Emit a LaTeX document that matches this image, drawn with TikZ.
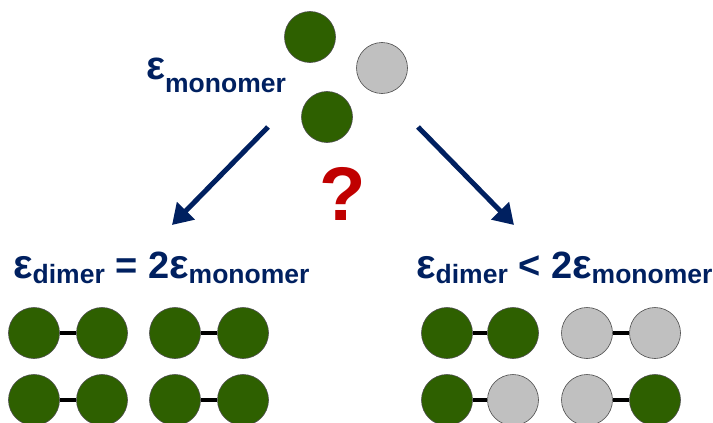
\documentclass[tikz,border=0pt]{standalone}
\usepackage{fontspec}
\setmainfont{Liberation Sans}
\usetikzlibrary{arrows.meta}
\definecolor{navy}{HTML}{002060}
\definecolor{leaf}{HTML}{2E6000}
\definecolor{ash}{HTML}{C0C0C0}
\definecolor{alert}{HTML}{C00000}
\newcommand{\bigeps}[1]{{\fontsize{#1}{#1}\selectfont ε}}
\newcommand{\lowsub}[2]{\raisebox{-#1}{\fontsize{26.5}{28}\selectfont #2}}
\begin{document}
\begin{tikzpicture}[x=1pt, y=-1pt,
    atom/.style={circle, draw=black!70, line width=0.6pt, minimum size=51pt, inner sep=0pt},
    green/.style={atom, fill=leaf},
    grey/.style={atom, fill=ash},
    bond/.style={line width=3.5pt, black},
    label/.style={inner sep=0pt, anchor=base west, text=navy, font=\bfseries},
    pointer/.style={navy, line width=5pt, -{Triangle[length=20pt, width=24pt]}}]
        \clip (0,0) rectangle (713,423);
        % monomers
        \node[green] (m1) at (310,37) {};
        \node[grey]  (m2) at (382,68) {};
        \node[green] (m3) at (327,117) {};
        \node[label] (emono) at (146,79) {\bigeps{40}\lowsub{13pt}{monomer}};
        \node[text=alert, font=\bfseries\fontsize{76}{80}\selectfont] (ask) at (343,194) {?};
        % arrows
        \coordinate (la) at (268,127);
        \coordinate (lb) at (172,225);
        \coordinate (ra) at (418,127);
        \coordinate (rb) at (514,225);
        \draw[pointer] (la) -- (lb);
        \draw[pointer] (ra) -- (rb);
        % labels
        \node[label] (eq) at (13,278)
          {\bigeps{41}\lowsub{5pt}{dimer}\fontsize{38}{40}\selectfont{} = 2\bigeps{41}\lowsub{5pt}{monomer}};
        \node[label] (lt) at (416,278)
          {\bigeps{41}\lowsub{5pt}{dimer}\fontsize{38}{40}\selectfont{} < 2\bigeps{41}\lowsub{5pt}{monomer}};
        % dimers, left
        \foreach \row/\y in {1/333,2/400} {
          \node[green] (a\row) at (34,\y) {};
          \node[green] (b\row) at (102,\y) {};
          \node[green] (c\row) at (175,\y) {};
          \node[green] (d\row) at (243,\y) {};
          \draw[bond] (a\row) -- (b\row);
          \draw[bond] (c\row) -- (d\row);
        }
        % dimers, right
        \node[green] (e1) at (447,333) {};
        \node[green] (f1) at (513,333) {};
        \node[grey]  (g1) at (587,333) {};
        \node[grey]  (h1) at (655,333) {};
        \node[green] (e2) at (447,400) {};
        \node[grey]  (f2) at (513,400) {};
        \node[grey]  (g2) at (587,400) {};
        \node[green] (h2) at (655,400) {};
        \foreach \row in {1,2} {
          \draw[bond] (e\row) -- (f\row);
          \draw[bond] (g\row) -- (h\row);
        }
        \end{tikzpicture}
\end{document}
